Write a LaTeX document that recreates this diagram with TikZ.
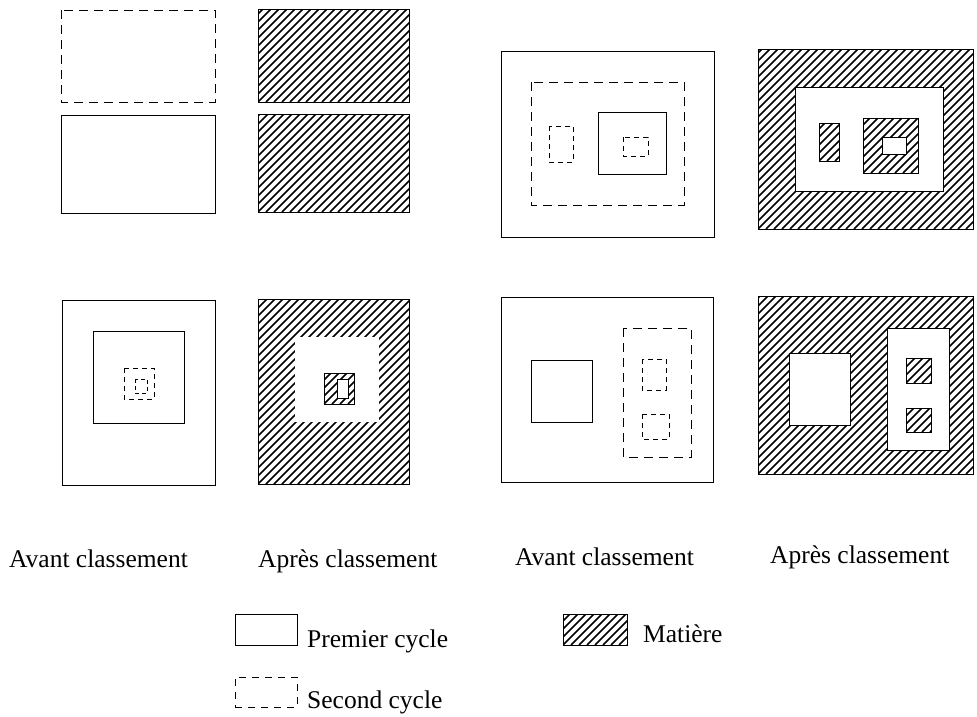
\documentclass[tikz,border=0pt]{standalone}
\usepackage{fontspec}
\setmainfont{Liberation Serif}
\usetikzlibrary{%
  calc,%
  positioning%
}
\begin{document}
\begin{tikzpicture}[x=1pt,y=-1pt,
  premier/.style={line width=0.9pt},
  second/.style={line width=0.9pt,dash pattern=on 9pt off 6pt},
  petit/.style={line width=0.8pt,dash pattern=on 5pt off 4pt},
  matiere/.style={line width=1pt,path picture={
    \foreach \k in {-30,...,30}
      \draw[line width=1.6pt] ($(path picture bounding box.south west)+(\k*8pt,0pt)$) -- ++(300pt,300pt);}},
  trou/.style={fill=white,line width=0.8pt},
  legende/.style={font=\fontsize{25.5}{30}\selectfont,inner sep=0pt}]
\useasboundingbox (0,0) rectangle (977,717);

% cycles separes
\draw[second] (61,10) rectangle (215,102);
\draw[premier] (61,115) rectangle (215,213);
\draw[matiere] (258,10) rectangle (409,102);
\draw[matiere] (258,114) rectangle (409,212);

% emboitement en haut a droite
\draw[premier] (501,51) rectangle (714,237);
\draw[second] (531,82) rectangle (684,205);
\draw[petit] (549,126) rectangle (573,162);
\draw[premier] (598,112) rectangle (666,174);
\draw[petit] (623,137) rectangle (648,156);
\draw[matiere] (758,50) rectangle (973,229);
\draw[trou] (795,87) rectangle (943,191);
\draw[matiere] (819,123) rectangle (839,161);
\draw[matiere] (863,118) rectangle (918,173);
\draw[trou] (882,137) rectangle (906,154);

% emboitement en bas a gauche
\draw[premier] (62,300) rectangle (215,485);
\draw[premier] (93,331) rectangle (184,423);
\draw[petit] (124,368) rectangle (154,399);
\draw[line width=0.8pt,dash pattern=on 4pt off 3pt] (135,379) rectangle (147,393);
\draw[matiere] (258,299) rectangle (409,484);
\fill[white] (295,337) rectangle (379,422);
\draw[matiere] (324,373) rectangle (354,404);
\draw[trou] (337,379) rectangle (348,398);

% emboitement en bas a droite
\draw[premier] (501,297) rectangle (713,482);
\draw[premier] (531,360) rectangle (592,422);
\draw[second] (623,328) rectangle (691,457);
\draw[petit] (642,359) rectangle (666,390);
\draw[petit] (642,414) rectangle (669,439);
\draw[matiere] (758,296) rectangle (973,474);
\draw[trou] (789,353) rectangle (850,425);
\draw[trou] (887,328) rectangle (949,450);
\draw[matiere] (906,358) rectangle (931,383);
\draw[matiere] (906,408) rectangle (931,432);

% titres
\node[legende,anchor=base west] (avant1) at (9,567) {Avant classement};
\node[legende,anchor=base west] (apres1) at (258,567) {Après classement};
\node[legende,anchor=base west] (avant2) at (515,565) {Avant classement};
\node[legende,anchor=base west] (apres2) at (770,563) {Après classement};

% legende
\node[draw,premier,minimum width=62pt,minimum height=31pt,inner sep=0pt] (lpremier) at (266,629.5) {};
\node[legende,anchor=base west] (tpremier) at (307,647) {Premier cycle};
\node[draw,second,dash pattern=on 7pt off 6pt,minimum width=62pt,minimum height=30pt,inner sep=0pt] (lsecond) at (266,692) {};
\node[legende,anchor=base west] (tsecond) at (307,708) {Second cycle};
\node[draw,matiere,line width=0.6pt,minimum width=64pt,minimum height=31pt,inner sep=0pt] (lmatiere) at (595,629.5) {};
\node[legende,anchor=base west] (tmatiere) at (643,642) {Matière};
\end{tikzpicture}
\end{document}
